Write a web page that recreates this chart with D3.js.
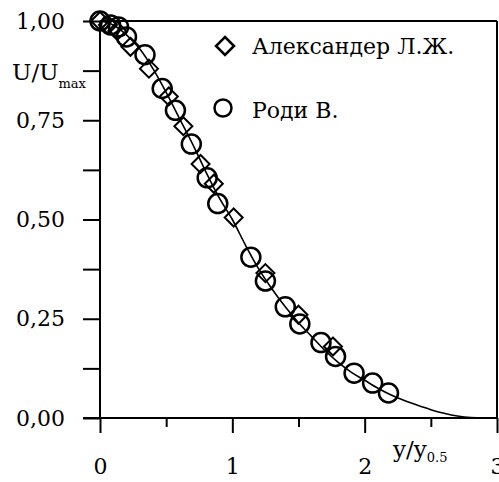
<!DOCTYPE html>
<html>
<head>
<meta charset="utf-8">
<script src="https://cdn.jsdelivr.net/npm/d3@7"></script>
</head>
<body style="margin:0; background:#fff;">
<script>
// data
var rodiX = [0.00, 0.08, 0.14, 0.20, 0.34, 0.47, 0.57, 0.69, 0.81, 0.89, 1.14, 1.25, 1.40, 1.51, 1.67, 1.78, 1.92, 2.06, 2.18];
var rodiY = [1.00, 0.99, 0.985, 0.96, 0.915, 0.83, 0.775, 0.69, 0.605, 0.54, 0.405, 0.345, 0.28, 0.237, 0.19, 0.155, 0.113, 0.088, 0.063];

var alexX = [0.00, 0.06, 0.13, 0.23, 0.37, 0.52, 0.63, 0.76, 0.86, 1.01, 1.25, 1.50, 1.76];
var alexY = [1.00, 0.99, 0.975, 0.935, 0.88, 0.81, 0.735, 0.64, 0.59, 0.505, 0.365, 0.26, 0.18];

var curveX = [0, 0.1, 0.2, 0.3, 0.4, 0.5, 0.6, 0.7, 0.8, 0.9, 1.0, 1.1, 1.2, 1.3, 1.4, 1.5, 1.6, 1.7, 1.8, 1.9, 2.0, 2.1, 2.2, 2.3, 2.4, 2.5, 2.6, 2.7, 2.8, 2.9, 3.0];
var curveY = [1, 0.99, 0.965, 0.93, 0.88, 0.82, 0.755, 0.69, 0.62, 0.555, 0.5, 0.435, 0.375, 0.325, 0.28, 0.24, 0.205, 0.17, 0.14, 0.115, 0.095, 0.075, 0.058, 0.044, 0.032, 0.021, 0.012, 0.005, 0.001, 0, 0];

var xTicks = [0, 0.5, 1, 1.5, 2, 2.5, 3];
var yTicks = [0, 0.125, 0.25, 0.375, 0.5, 0.625, 0.75, 0.875, 1];
var legendNames = ["Александер Л.Ж.", "Роди В."];

var width = 499, height = 482;
var fontSize = 22;
var serif = "DejaVu Serif, serif";

var svg = d3.select("body").append("svg")
    .attr("width", width)
    .attr("height", height)
    .attr("font-family", serif);

var x = d3.scaleLinear().domain([0, 3]).range([100, 497]);
var y = d3.scaleLinear().domain([0, 1]).range([418, 21]);

// frame: top and right lines
svg.append("line")
    .attr("x1", x(0)).attr("x2", x(3))
    .attr("y1", y(1)).attr("y2", y(1))
    .attr("stroke", "#000").attr("stroke-width", 2);
svg.append("line")
    .attr("x1", x(3)).attr("x2", x(3))
    .attr("y1", y(1)).attr("y2", y(0))
    .attr("stroke", "#000").attr("stroke-width", 2);

// x axis
var xAxis = d3.axisBottom(x)
    .tickValues(xTicks)
    .tickSize(15)
    .tickPadding(25)
    .tickFormat(function(d) { return d % 1 === 0 ? d : ""; });

var gx = svg.append("g")
    .attr("transform", "translate(0," + y(0) + ")")
    .call(xAxis)
    .attr("font-family", serif)
    .attr("font-size", fontSize);
gx.select(".domain").remove();
gx.selectAll(".tick line")
    .attr("stroke-width", 2)
    .attr("y2", function(d) { return d % 1 === 0 ? 15 : 9; });
svg.append("line")
    .attr("x1", x(0) - 17).attr("x2", x(3))
    .attr("y1", y(0)).attr("y2", y(0))
    .attr("stroke", "#000").attr("stroke-width", 2);

// y axis
var yAxis = d3.axisLeft(y)
    .tickValues(yTicks)
    .tickSize(17)
    .tickPadding(18)
    .tickFormat(function(d) {
        return (d * 4) % 1 === 0 ? d3.format(".2f")(d).replace(".", ",") : "";
    });

var gy = svg.append("g")
    .attr("transform", "translate(" + x(0) + ",0)")
    .call(yAxis)
    .attr("font-family", serif)
    .attr("font-size", fontSize);
gy.select(".domain").remove();
gy.selectAll(".tick line").attr("stroke-width", 2);
svg.append("line")
    .attr("x1", x(0)).attr("x2", x(0))
    .attr("y1", y(1)).attr("y2", y(0))
    .attr("stroke", "#000").attr("stroke-width", 2);

// axis titles
var yt = svg.append("text")
    .attr("x", 12)
    .attr("y", 80)
    .attr("font-family", serif)
    .attr("font-size", 23);
yt.append("tspan").text("U/U");
yt.append("tspan").attr("dy", 8).attr("font-size", 13).text("max");

var xt = svg.append("text")
    .attr("x", 393)
    .attr("y", 457)
    .attr("font-family", serif)
    .attr("font-size", 23);
xt.append("tspan").text("y/y");
xt.append("tspan").attr("dy", 5).attr("font-size", 13).text("0.5");

// curve
var line = d3.line()
    .x(function(d) { return x(d[0]); })
    .y(function(d) { return y(d[1]); })
    .curve(d3.curveMonotoneX);

svg.append("path")
    .datum(d3.zip(curveX, curveY))
    .attr("d", line)
    .attr("fill", "none")
    .attr("stroke", "#000")
    .attr("stroke-width", 1.6);

// diamonds
var diamond = function(cx, cy, s) {
    return "M" + cx + "," + (cy - s) + "L" + (cx + s) + "," + cy + "L" + cx + "," + (cy + s) + "L" + (cx - s) + "," + cy + "Z";
};

svg.selectAll(".alex")
    .data(d3.zip(alexX, alexY))
    .enter().append("path")
    .attr("class", "alex")
    .attr("d", function(d) { return diamond(x(d[0]), y(d[1]), 9); })
    .attr("fill", "none")
    .attr("stroke", "#000")
    .attr("stroke-width", 2);

// circles
svg.selectAll(".rodi")
    .data(d3.zip(rodiX, rodiY))
    .enter().append("circle")
    .attr("class", "rodi")
    .attr("cx", function(d) { return x(d[0]); })
    .attr("cy", function(d) { return y(d[1]); })
    .attr("r", 9.5)
    .attr("fill", "none")
    .attr("stroke", "#000")
    .attr("stroke-width", 2.5);

// legend
svg.append("path")
    .attr("d", diamond(225, 46, 9))
    .attr("fill", "none")
    .attr("stroke", "#000")
    .attr("stroke-width", 2.5);
svg.append("text")
    .attr("x", 252).attr("y", 54)
    .attr("font-family", serif)
    .attr("font-size", fontSize)
    .text(legendNames[0]);

svg.append("circle")
    .attr("cx", 223).attr("cy", 108)
    .attr("r", 8.5)
    .attr("fill", "none")
    .attr("stroke", "#000")
    .attr("stroke-width", 2.5);
svg.append("text")
    .attr("x", 252).attr("y", 118)
    .attr("font-family", serif)
    .attr("font-size", fontSize)
    .text(legendNames[1]);
</script>
</body>
</html>
